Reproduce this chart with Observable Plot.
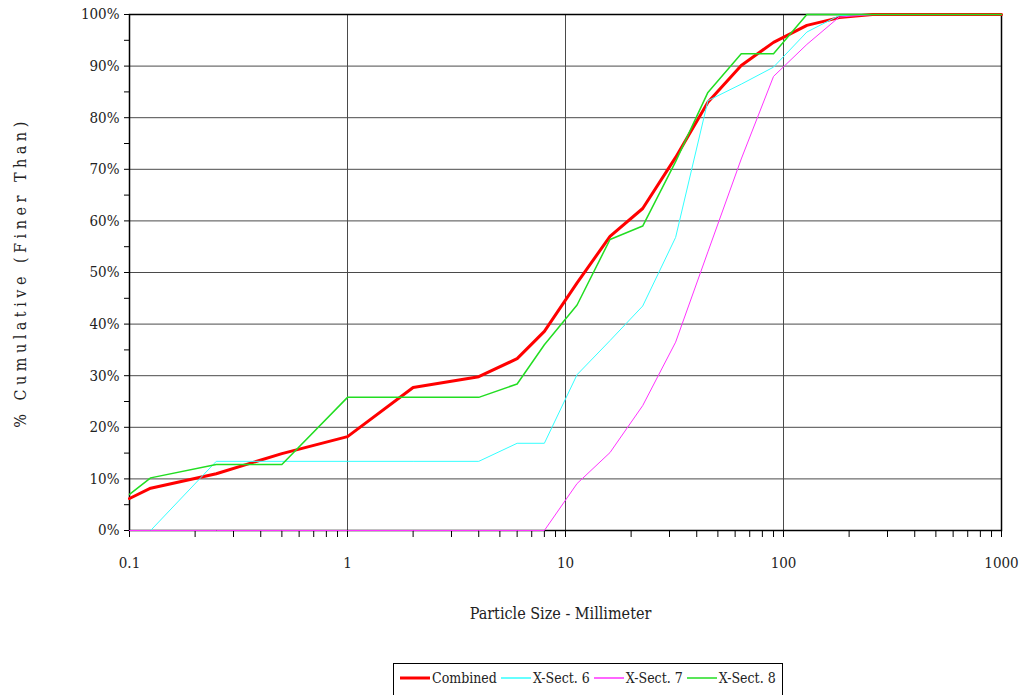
<!DOCTYPE html>
<html>
<head>
<meta charset="utf-8">
<script src="https://cdn.jsdelivr.net/npm/d3@7"></script>
<script src="https://cdn.jsdelivr.net/npm/@observablehq/plot@0.6"></script>
<style>
  body { margin: 0; background: #fff; width: 1021px; height: 695px; overflow: hidden; position: relative; font-family: "DejaVu Serif Condensed", "DejaVu Serif"; font-stretch: condensed; }
  #legend { position: absolute; left: 393px; top: 663px; height: 40px; border: 1px solid #000; display: flex; align-items: flex-start; padding: 6px 2px 0 6px; box-sizing: border-box; font-size: 14px; color: #222; white-space: nowrap; }
  .item { display: flex; align-items: center; margin-right: 4px; }
  .sw { width: 30px; height: 6px; margin-right: 2px; display: block; }
  svg text { font-family: "DejaVu Serif Condensed", "DejaVu Serif" !important; font-stretch: condensed; }
</style>
</head>
<body>
<div id="chart"></div>
<div id="legend"></div>
<script>
const sizes = [0.1, 0.125, 0.25, 0.5, 1, 2, 4, 6, 8, 11.3, 16, 22.6, 32, 45, 64, 90, 128, 180, 256, 1000];
const combined = [6.2, 8.2, 11.0, 14.9, 18.2, 27.7, 29.8, 33.3, 38.6, 48, 57, 62.4, 72.3, 83, 90.1, 94.6, 97.9, 99.4, 100, 100];
const xsect6 = [null, 0, 13.4, 13.4, 13.4, 13.4, 13.4, 16.9, 16.9, 30.2, 36.8, 43.5, 56.8, 83.3, 86.5, 89.8, 96.6, 99.8, 100, 100];
const xsect7 = [0, 0, 0, 0, 0, 0, 0, 0, 0, 9.1, 15.1, 24.2, 36.5, 54, 72, 88, 94.2, 99.5, 100, 100];
const xsect8 = [7, 10.2, 12.8, 12.8, 25.8, 25.8, 25.8, 28.4, 36, 43.7, 56.4, 59, 71.5, 84.9, 92.4, 92.4, 100, 100, 100, 100];
const seriesNames = ["Combined", "X-Sect. 6", "X-Sect. 7", "X-Sect. 8"];
const seriesColors = ["#ff0000", "#33ffff", "#ff33ff", "#22dd22"];
const seriesWidths = [3, 1, 1, 1.5];
const xTicks = [0.1, 1, 10, 100, 1000];
const yTicks = [0, 10, 20, 30, 40, 50, 60, 70, 80, 90, 100];
const yMinor = [5, 15, 25, 35, 45, 55, 65, 75, 85, 95];
const xMinor = [];
for (const d of [0.1, 1, 10, 100]) for (let k = 2; k <= 9; k++) xMinor.push(+(d * k).toPrecision(3));
const xLabel = "Particle Size - Millimeter";
const yLabel = "% Cumulative (Finer Than)";

const allSeries = [combined, xsect6, xsect7, xsect8];
const rows = [];
allSeries.forEach((vals, i) => {
  vals.forEach((v, j) => { if (v != null) rows.push({ series: seriesNames[i], size: sizes[j], pct: v }); });
});

const lineMarks = seriesNames.map((name, i) =>
  Plot.line(rows.filter(r => r.series === name), {
    x: "size", y: "pct", stroke: seriesColors[i], strokeWidth: seriesWidths[i], curve: "linear"
  })
);

const chart = Plot.plot({
  width: 1021,
  height: 650,
  marginLeft: 129,
  marginRight: 20,
  marginTop: 14,
  marginBottom: 120,
  style: { fontSize: "15px", color: "#222", background: "#fff" },
  x: { type: "log", domain: [0.1, 1000] },
  y: { domain: [0, 100] },
  marks: [
    Plot.gridY(yTicks, { stroke: "#4a4a4a", strokeOpacity: 1, strokeWidth: 1 }),
    Plot.gridX(xTicks, { stroke: "#4a4a4a", strokeOpacity: 1, strokeWidth: 1 }),
    Plot.axisX(xTicks, { tickSize: 7, tickPadding: 20, tickFormat: d => String(d), label: null, stroke: "#000", fontSize: 15 }),
    Plot.axisX(xMinor, { tickSize: 7, tickFormat: () => "", label: null, stroke: "#000" }),
    Plot.axisY(yTicks, { tickSize: 5, tickPadding: 5, tickFormat: d => d + "%", label: null, stroke: "#000", fontSize: 15 }),
    Plot.axisY(yMinor, { tickSize: 5, tickFormat: () => "", label: null, stroke: "#000" }),
    Plot.frame({ stroke: "#000", strokeWidth: 1.5 }),
    ...lineMarks,
    Plot.text([xLabel], { text: d => d, frameAnchor: "bottom", dy: 88, dx: -5, fontSize: 16, fill: "#222" }),
    Plot.text([yLabel], { text: d => d, frameAnchor: "left", textAnchor: "middle", rotate: -90, dx: -109, fontSize: 16, fill: "#222" })
  ]
});
document.getElementById("chart").appendChild(chart);
d3.select(chart).selectAll("text").filter(function () { return this.textContent === yLabel; })
  .style("letter-spacing", "4.5px");

const legend = d3.select("#legend");
seriesNames.forEach((name, i) => {
  const it = legend.append("div").attr("class", "item");
  const sw = it.append("svg").attr("class", "sw").attr("width", 30).attr("height", 6);
  sw.append("line").attr("x1", 0).attr("x2", 30).attr("y1", 3).attr("y2", 3)
    .attr("stroke", seriesColors[i]).attr("stroke-width", i === 0 ? 3 : 1.5);
  it.append("span").text(name);
});
</script>
</body>
</html>
